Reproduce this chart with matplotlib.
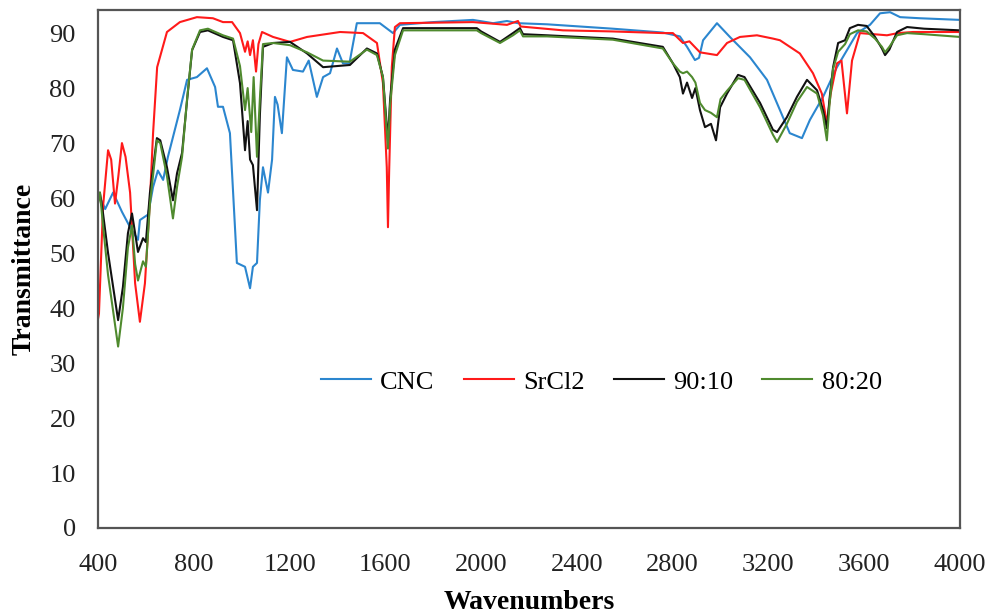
import matplotlib
matplotlib.use("Agg")
import matplotlib.pyplot as plt

# ---- data ----
cnc_wn = [400, 408, 430, 463, 500, 534, 567, 575, 609, 630, 650, 672, 692, 742, 772, 813, 855, 889, 901, 922,
          951, 980, 1014, 1035, 1047, 1064, 1076, 1089, 1110, 1127, 1139, 1150, 1168, 1189, 1214, 1256, 1280,
          1314, 1340, 1369, 1398, 1423, 1450, 1481, 1577, 1632, 1661, 1800, 1966, 2050, 2108, 2154, 2275, 2550,
          2759, 2830, 2860, 2893, 2910, 2927, 2985, 3039, 3123, 3194, 3248, 3289, 3340, 3373, 3428, 3486, 3570,
          3624, 3666, 3708, 3750, 3833, 4000]
cnc_val = [61, 60.2, 58, 61, 57.5, 54.7, 52.4, 56, 57, 62, 65, 63.3, 67.5, 76, 81.5, 82, 83.6, 80.2, 76.6, 76.6,
           71.8, 48.2, 47.5, 43.6, 47.5, 48.2, 59.6, 65.6, 61, 67, 78.4, 77, 71.8, 85.6, 83.3, 83, 85,
           78.4, 82, 82.7, 87.2, 84.5, 84.5, 91.8, 91.8, 90, 91.5, 92, 92.4, 91.8, 92.2, 91.8, 91.6, 90.8,
           90.1, 89.4, 87.5, 85.1, 85.5, 88.7, 91.8, 89.3, 85.6, 81.5, 76, 71.8, 70.9, 74.2, 78.4, 83.8, 90,
           91.5, 93.6, 93.8, 92.9, 92.7, 92.4]

srcl2_wn = [400, 404, 421, 442, 455, 471, 485, 500, 515, 534, 555, 575, 596, 617, 630, 647, 688, 742, 813, 880,
            922, 960, 993, 1014, 1025, 1035, 1047, 1060, 1070, 1085, 1131, 1202, 1273, 1411, 1507, 1565, 1590,
            1606, 1611, 1616, 1627, 1640, 1661, 1966, 2108, 2154, 2165, 2342, 2550, 2759, 2801, 2843, 2870,
            2914, 2985, 3027, 3081, 3152, 3219, 3248, 3331, 3386, 3423, 3444, 3460, 3486, 3505, 3528, 3549,
            3582, 3640, 3695, 3740, 3804, 4000]
srcl2_val = [38, 39, 58.4, 68.7, 67, 59, 64, 70, 67.5, 61, 44.5, 37.5, 44.5, 59.6, 71.8, 83.8, 90.2, 92, 92.9, 92.7,
             92, 92, 90, 86.6, 88.5, 86, 88.7, 83, 88, 90.2, 89.3, 88.4, 89.3, 90.2, 90, 88.2, 80.9,
             65.6, 54.7, 65, 83.8, 91.1, 91.8, 92, 91.5, 92.2, 91.2, 90.5, 90.3, 90, 90, 88.2, 88.5,
             86.5, 86, 88.2, 89.3, 89.6, 89, 88.7, 86.3, 82.7, 79, 73.6, 79, 84.5, 85, 75.4, 85,
             90, 89.8, 89.6, 90, 90.2, 90.2]

s9010_wn = [400, 408, 421, 442, 484, 504, 525, 542, 555, 567, 588, 600, 617, 646, 660, 688, 713, 730, 751, 772,
            793, 826, 859, 922, 964, 993, 1014, 1025, 1035, 1047, 1064, 1076, 1089, 1131, 1202, 1273, 1340, 1452,
            1523, 1565, 1590, 1611, 1620, 1640, 1674, 1982, 2000, 2079, 2133, 2162, 2175, 2275, 2550, 2759,
            2801, 2830, 2843, 2860, 2881, 2895, 2914, 2935, 2960, 2981, 2998, 3027, 3073, 3100, 3165, 3219,
            3236, 3277, 3319, 3361, 3403, 3428, 3444, 3455, 3470, 3491, 3520, 3540, 3574, 3610, 3645, 3674,
            3687, 3705, 3737, 3779, 3850, 4000]
s9010_val = [60, 61, 57.2, 50, 37.8, 43.8, 53.6, 57.2, 53.6, 50.2, 52.7, 52, 61, 70.9, 70.5, 65.6, 59.6, 64.5, 68.2, 77.8,
             86.9, 90.2, 90.5, 89.3, 88.7, 80.9, 68.7, 74, 67, 66, 57.8, 75, 87.5, 88.2, 88.4, 86.3, 83.8, 84.2,
             87.2, 86.3, 82, 70.5, 78, 87, 90.9, 90.9, 90.3, 88.4, 90, 90.9, 89.8, 89.6, 89, 87.5,
             84.5, 82, 79, 81, 78.2, 80, 76, 72.9, 73.5, 70.5, 76.5, 79, 82.4, 82, 77.3, 72.4,
             72, 74.7, 78.4, 81.5, 79.6, 76, 72.7, 78, 83.8, 88.2, 88.7, 90.9, 91.5, 91.3, 89.3, 87.2,
             86, 87, 90.2, 91.1, 90.8, 90.5]

s8020_wn = [400, 408, 421, 442, 484, 504, 525, 542, 555, 567, 588, 600, 617, 646, 660, 688, 713, 730, 751, 772,
            793, 826, 859, 922, 964, 993, 1014, 1025, 1040, 1050, 1064, 1076, 1089, 1131, 1202, 1273, 1340, 1452,
            1523, 1565, 1590, 1611, 1620, 1640, 1674, 1982, 2000, 2079, 2133, 2162, 2175, 2275, 2550, 2759,
            2801, 2830, 2843, 2860, 2881, 2895, 2914, 2935, 2960, 2985, 3000, 3027, 3073, 3100, 3165, 3219,
            3236, 3277, 3319, 3361, 3403, 3428, 3444, 3455, 3470, 3491, 3520, 3540, 3574, 3610, 3645, 3674,
            3687, 3705, 3737, 3779, 3850, 4000]
s8020_val = [59, 61, 55, 46, 33, 40, 51, 55, 48, 45, 48.5, 47.5, 59, 70.5, 70, 64, 56.3, 62, 67.5, 78,
             87, 90.5, 90.8, 89.6, 89, 84, 76, 80, 72, 82, 67.5, 78, 88, 88.2, 87.8, 86.5, 85, 84.8,
             87, 86, 82, 69, 77, 86, 90.5, 90.5, 90, 88.2, 89.6, 90.5, 89.4, 89.4, 88.8, 87.2,
             84.5, 83, 82.7, 83, 82, 81, 77.3, 76, 75.5, 74.7, 78, 79.5, 81.8, 81.5, 76.5, 71.5,
             70.2, 73.5, 77.5, 80.2, 79, 75, 70.5, 77, 83.5, 86.6, 88, 89.8, 90.5, 90.3, 89, 87.5,
             86.5, 87.5, 89.6, 90, 89.8, 89.3]

series_labels = ["CNC", "SrCl2", "90:10", "80:20"]
x_ticks = [400, 800, 1200, 1600, 2000, 2400, 2800, 3200, 3600, 4000]
y_ticks = [0, 10, 20, 30, 40, 50, 60, 70, 80, 90]

# ---- plot ----
plt.rcParams['font.family'] = ['Liberation Serif', 'DejaVu Serif']

fig = plt.figure(figsize=(9.93, 6.16), dpi=100)
ax = fig.add_axes([98/993, 88/616, 862/993, 518/616])

colors = ["#2b86cf", "#ff1a1a", "#111111", "#4f8a2e"]
data = [(cnc_wn, cnc_val), (srcl2_wn, srcl2_val), (s9010_wn, s9010_val), (s8020_wn, s8020_val)]
for (xw, yv), c, lab in zip(data, colors, series_labels):
    ax.plot(xw, yv, color=c, lw=1.5, label=lab, solid_joinstyle='round')

ax.set_xlim(400, 4000)
ax.set_ylim(0, 94.2)
ax.set_xticks(x_ticks)
ax.set_yticks(y_ticks)
ax.tick_params(length=0, labelsize=19, colors="#222222")
ax.tick_params(axis='y', pad=16)
ax.tick_params(axis='x', pad=19)
for s in ax.spines.values():
    s.set_color("#555555")
    s.set_linewidth(1.6)

ax.set_xlabel("Wavenumbers", fontsize=20, fontweight='bold', labelpad=10)
ax.set_ylabel("Transmittance", fontsize=20, fontweight='bold', labelpad=9)

ax.legend(loc='center', bbox_to_anchor=(0.584, 0.282), ncol=4, frameon=False, fontsize=19,
          handlelength=1.9, columnspacing=1.1, handletextpad=0.35)

fig.savefig("out.png", dpi=100)
